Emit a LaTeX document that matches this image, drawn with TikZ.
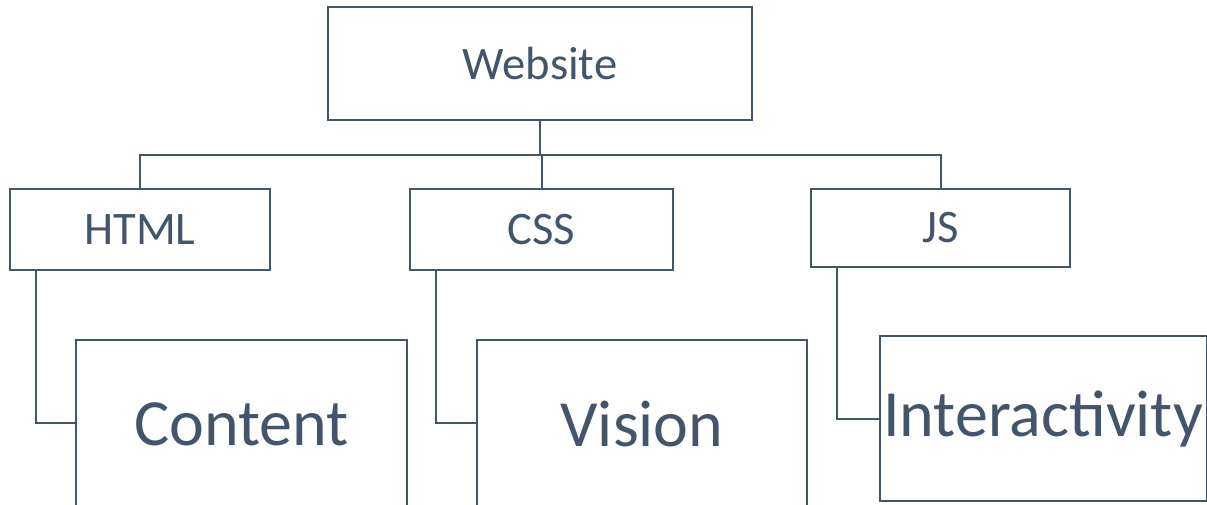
\documentclass[tikz,border=0pt]{standalone}
\usepackage{fontspec}
\setmainfont{Carlito}
\usepackage{tikz}
\definecolor{slate}{RGB}{68,84,106}

\begin{document}
\begin{tikzpicture}[x=1pt,y=1pt,yscale=-1,xscale=1,
  box/.style={draw=slate,line width=2pt,text=slate,inner sep=0pt},
  small/.style={box,font=\fontsize{46.6}{50}\selectfont},
  big/.style={box,font=\fontsize{66}{70}\selectfont,minimum width=330,minimum height=165},
  link/.style={draw=slate,line width=2pt}]
\useasboundingbox (0,0) rectangle (1207,504);

% top box
\node [small,minimum width=424,minimum height=113] (website) at (540,63.5) {Website};
% second row
\node [small,minimum width=260,minimum height=81] (html) at (140,229.5) {HTML};
\node [small,minimum width=263,minimum height=81] (css) at (541.5,229.5) {CSS};
\node [small,minimum width=259,minimum height=78] (js) at (940.5,228) {JS};
% third row (the lower two run past the bottom edge)
\node [big,minimum width=331,minimum height=170] (content) at (241.5,425) {\raisebox{2.5pt}{Content}};
\node [big,minimum height=170] (vision) at (642,425) {\raisebox{2.5pt}{Vision}};
\node [big,minimum width=327] (inter) at (1043,418.5) {Interactivity};

% tree lines
\draw [link] (website.south) -- ++(0,34) coordinate (bus);
\draw [link] (html.north) |- (bus) -| (js.north);
\draw [link] (css.north) -- (css.north |- bus);
% elbows
\draw [link] ([xshift=27pt]html.south west) |- ([yshift=-2.5pt]content.west);
\draw [link] ([xshift=27pt]css.south west) |- ([yshift=-2.5pt]vision.west);
\draw [link] ([xshift=27pt]js.south west) |- (inter.west);

\end{tikzpicture}
\end{document}
